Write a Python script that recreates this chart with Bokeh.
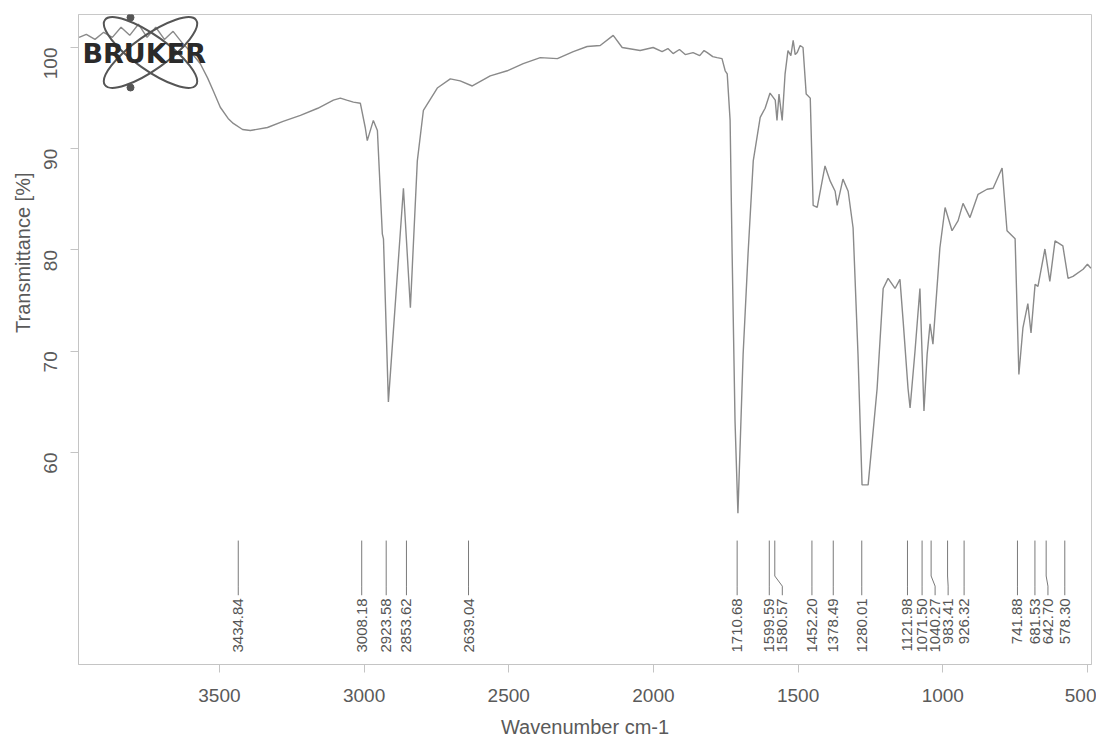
import math
from bokeh.plotting import figure
from bokeh.models import Range1d, FixedTicker, Label, ColumnDataSource, Title
from bokeh.embed import file_html
from bokeh.resources import INLINE

# ---------------- data ----------------
wavenumber = [3985, 3960, 3930, 3900, 3870, 3840, 3810, 3780, 3750, 3720, 3690, 3660, 3630, 3600,
              3566, 3541, 3521, 3497, 3470, 3452, 3420, 3393, 3334, 3280, 3220, 3160, 3106, 3082,
              3060, 3037, 3013, 2996, 2989, 2968, 2954, 2937, 2933, 2916, 2864, 2840, 2816, 2795,
              2747, 2702, 2668, 2626, 2564, 2505, 2450, 2391, 2332, 2277, 2229, 2184, 2139, 2108,
              2046, 2001, 1970, 1950, 1932, 1910, 1890, 1863, 1840, 1825, 1814, 1795, 1780, 1763,
              1752, 1745, 1735, 1728, 1718, 1708, 1690, 1673, 1655, 1631, 1614, 1597, 1579, 1573,
              1566, 1555, 1545, 1535, 1525, 1517, 1510, 1503, 1493, 1483, 1472, 1458, 1448, 1434,
              1407, 1389, 1372, 1365, 1345, 1327, 1310, 1293, 1279, 1258, 1227, 1206, 1189, 1165,
              1148, 1137, 1120, 1113, 1096, 1079, 1065, 1054, 1044, 1034, 1010, 992, 968, 947,
              930, 906, 878, 847, 826, 795, 778, 750, 737, 723, 706, 695, 681, 671, 647, 630,
              612, 585, 567, 550, 515, 500, 488]
transmittance = [101.0, 101.3, 100.8, 101.5, 101.0, 102.0, 101.2, 102.3, 101.0, 102.0, 100.8, 101.6, 100.5, 99.6,
                 98.4, 97.0, 95.7, 94.1, 93.0, 92.5, 91.9, 91.8, 92.1, 92.7, 93.3, 94.0, 94.8, 95.0,
                 94.8, 94.6, 94.5, 92.1, 90.8, 92.8, 91.8, 81.6, 81.1, 65.0, 86.1, 74.3, 88.8, 93.8,
                 96.0, 96.9, 96.7, 96.2, 97.2, 97.7, 98.4, 99.0, 98.9, 99.6, 100.1, 100.2, 101.2, 100.0,
                 99.7, 100.0, 99.6, 99.9, 99.4, 99.8, 99.3, 99.5, 99.2, 99.7, 99.5, 99.1, 99.0, 98.9,
                 97.7, 97.4, 92.8, 79.6, 63.1, 54.0, 69.7, 79.6, 88.8, 93.1, 94.0, 95.5, 94.8, 92.8,
                 95.4, 92.8, 97.4, 99.7, 99.2, 100.7, 99.3, 99.5, 100.2, 100.0, 95.4, 95.0, 84.4, 84.2,
                 88.3, 86.8, 85.8, 84.4, 87.0, 85.8, 82.2, 69.7, 56.8, 56.8, 66.3, 76.2, 77.2, 76.2,
                 77.1, 73.0, 66.3, 64.4, 70.0, 76.2, 64.1, 69.7, 72.7, 70.7, 80.2, 84.2, 81.9, 82.9,
                 84.6, 83.2, 85.5, 86.0, 86.1, 88.1, 81.9, 81.1, 67.7, 72.3, 74.7, 71.8, 76.6, 76.4, 80.1, 76.9,
                 80.9, 80.4, 77.2, 77.4, 78.1, 78.6, 78.2]

peak_labels = ["3434.84", "3008.18", "2923.58", "2853.62", "2639.04", "1710.68", "1599.59",
               "1580.57", "1452.20", "1378.49", "1280.01", "1121.98", "1071.50", "1040.27",
               "983.41", "926.32", "741.88", "681.53", "642.70", "578.30"]

x_ticks = [3500, 3000, 2500, 2000, 1500, 1000, 500]
y_ticks = [60, 70, 80, 90, 100]

# ---------------- figure ----------------
X0, X1 = 3987, 486
Y0, Y1 = 39.06, 103.26
FW, FH = 1013, 650   # frame size in px

p = figure(width=1096, height=740, output_backend="svg", toolbar_location=None,
           x_range=Range1d(X0, X1), y_range=Range1d(Y0, Y1),
           min_border_left=78, min_border_right=5, min_border_top=14, min_border_bottom=76)
p.background_fill_color = "white"
p.border_fill_color = "white"
p.outline_line_color = "#c8c8c8"
p.grid.visible = False

FONT = "Liberation Sans"
TXT = "#5a5a5a"
for ax in (p.xaxis[0], p.yaxis[0]):
    ax.axis_line_color = "#c4c4c4"
    ax.major_tick_line_color = "#c4c4c4"
    ax.minor_tick_line_color = None
    ax.major_tick_out = 8
    ax.major_tick_in = 0
    ax.major_label_text_font = FONT
    ax.major_label_text_font_size = "19px"
    ax.major_label_text_color = TXT

p.xaxis.ticker = FixedTicker(ticks=x_ticks)
p.yaxis.ticker = FixedTicker(ticks=y_ticks)
p.xaxis.major_label_standoff = 16
p.xaxis.axis_label = "Wavenumber cm-1"
p.xaxis.axis_label_text_font = FONT
p.xaxis.axis_label_text_font_size = "20px"
p.xaxis.axis_label_text_font_style = "normal"
p.xaxis.axis_label_text_color = TXT
p.xaxis.axis_label_standoff = 11
p.yaxis.major_label_orientation = math.pi / 2
p.yaxis.major_label_standoff = 20

# y title, placed towards the top like the original
p.add_layout(Title(text="Transmittance [%]", align="right", offset=158, standoff=2,
                   text_font=FONT, text_font_size="20px", text_font_style="normal",
                   text_color=TXT), "left")

# helpers: screen px (relative to frame top-left) -> data
def px2w(px):
    return X0 + (X1 - X0) * px / FW

def py2t(py):
    return Y1 - (Y1 - Y0) * py / FH

# ---------------- spectrum ----------------
p.line(wavenumber, transmittance, line_color="#8a8a8a", line_width=1.4)

# ---------------- peak picks ----------------
peak_w = [float(s) for s in peak_labels]
min_gap = 45.0
label_w = []
for i, w in enumerate(peak_w):
    if i == 0:
        label_w.append(w)
    else:
        label_w.append(min(w, label_w[-1] - min_gap))

y_top, y_k1, y_k2, y_bot, y_txt = 51.3, 47.8, 46.8, 45.9, 45.6
xs = [[w, w, lw, lw] for w, lw in zip(peak_w, label_w)]
ys = [[y_top, y_k1, y_k2, y_bot] for _ in peak_w]
p.multi_line(xs, ys, line_color="#7a7a7a", line_width=1)
src = ColumnDataSource(dict(x=label_w, y=[y_txt] * len(label_w), t=peak_labels))
p.text(x="x", y="y", text="t", source=src, angle=math.pi / 2, text_align="right",
       text_baseline="middle", text_font_size="15px", text_color="#555555",
       text_font={"value": FONT})

# ---------------- Bruker logo ----------------
cx, cy = px2w(72), py2t(38)
p.ellipse(x=[cx, cx], y=[cy, cy], width=[112, 112], height=[34, 34],
          width_units="screen", height_units="screen", angle=[0.62, -0.62],
          fill_color=None, line_color="#555555", line_width=2)
p.scatter(x=[px2w(52), px2w(52)], y=[py2t(3), py2t(73)], size=7, color="#555555")
p.add_layout(Label(x=4, y=FH - 39, x_units="screen", y_units="screen", text="BRUKER",
                   text_align="left", text_baseline="middle", text_font="DejaVu Sans",
                   text_font_size="27px", text_font_style="bold", text_color="#2a2a2a",
                   background_fill_color=None))

open("out.html", "w").write(file_html(p, INLINE))
